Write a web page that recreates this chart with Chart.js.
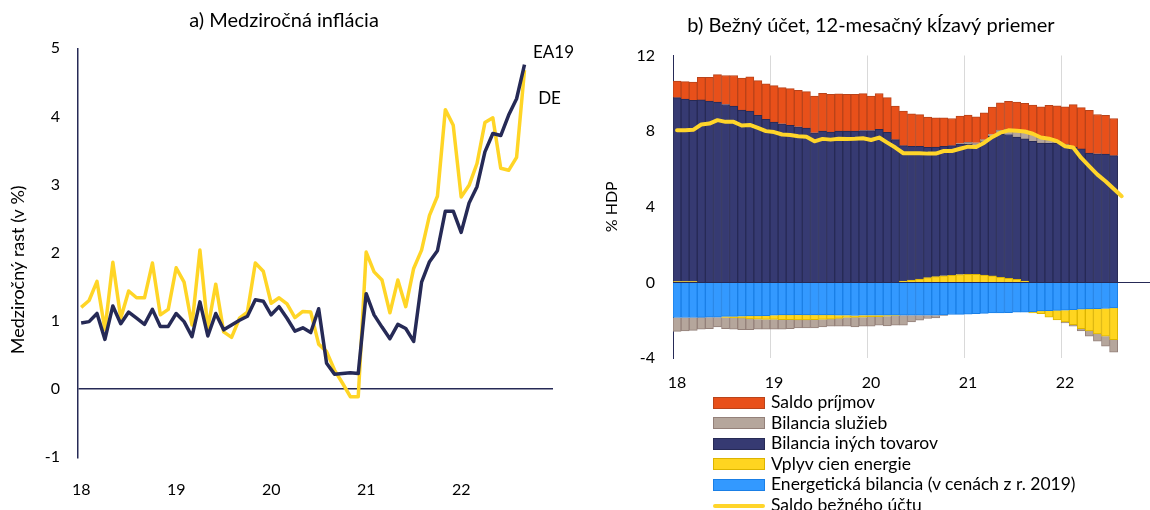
<!DOCTYPE html>
<html lang="sk">
<head>
<meta charset="utf-8">
<title>Inflácia a bežný účet</title>
<script src="https://cdn.jsdelivr.net/npm/chart.js@4.4.0/dist/chart.umd.min.js"></script>
<style>
  html, body { margin: 0; padding: 0; background: #fff; overflow: hidden; }
  body { width: 1150px; height: 510px; position: relative; font-family: Lato, "Open Sans", sans-serif; }
  #grafA { position: absolute; left: 0; top: 0; }
  #grafB { position: absolute; left: 580px; top: 0; }
  #legenda { position: absolute; left: 713px; top: 392px; font-size: 17.5px; color: #000; }
  #legenda div { height: 20.6px; line-height: 20.6px; white-space: nowrap; }
  #legenda .box { display: inline-block; width: 50px; height: 10px; border: 1px solid; vertical-align: middle; margin-right: 6px; position: relative; top: -1px; }
  #legenda .ciara { display: inline-block; width: 52px; height: 4px; vertical-align: middle; margin-right: 6px; position: relative; top: -1px; border-radius: 2px; }
</style>
</head>
<body>
<canvas id="grafA" width="580" height="510"></canvas>
<canvas id="grafB" width="570" height="400"></canvas>
<div id="legenda"></div>

<script>
// a) medziročná inflácia, mesačne od 01/2018
const ea19 = [0.97, 0.99, 1.11, 0.73, 1.22, 0.96, 1.13, 1.04, 0.95, 1.17,
              0.92, 0.92, 1.11, 0.99, 0.77, 1.28, 0.78, 1.11, 0.87, 0.94,
              1.01, 1.07, 1.31, 1.29, 1.09, 1.21, 1.04, 0.85, 0.90, 0.83,
              1.18, 0.38, 0.22, 0.23, 0.24, 0.23, 1.40, 1.09, 0.91, 0.74,
              0.95, 0.89, 0.70, 1.57, 1.87, 2.03, 2.61, 2.61, 2.30, 2.73,
              2.97, 3.48, 3.75, 3.72, 4.02, 4.26, 4.76];
const de = [1.20, 1.30, 1.58, 0.87, 1.86, 1.04, 1.44, 1.34, 1.34, 1.85,
            1.09, 1.17, 1.78, 1.57, 0.94, 2.04, 0.89, 1.54, 0.84, 0.76,
            1.04, 1.13, 1.85, 1.73, 1.26, 1.34, 1.25, 1.05, 1.14, 1.13,
            0.66, 0.55, 0.28, 0.09, -0.11, -0.11, 2.01, 1.72, 1.60, 1.12,
            1.60, 1.21, 1.77, 2.04, 2.55, 2.83, 4.10, 3.87, 2.82, 2.99,
            3.31, 3.91, 3.98, 3.24, 3.21, 3.40, 4.68];

const rokyPopisky = ['18', '19', '20', '21', '22'];

// b) bežný účet, % HDP
const prijmy = [0.88, 0.92, 0.97, 1.20, 1.26, 1.45, 1.53, 1.61, 1.69, 1.81,
                1.84, 1.88, 1.93, 1.91, 1.95, 1.93, 1.93, 1.95, 2.00, 2.00,
                1.97, 1.95, 1.95, 1.95, 1.83, 1.90, 1.83, 1.78, 1.83, 1.72,
                1.67, 1.60, 1.55, 1.50, 1.44, 1.45, 1.44, 1.38, 1.42, 1.45,
                1.45, 1.48, 1.49, 1.47, 1.56, 1.65, 1.81, 1.88, 2.00, 2.25,
                2.18, 2.26, 2.08, 2.04, 1.97];
const sluzby = [-0.73, -0.71, -0.68, -0.63, -0.61, -0.52, -0.59, -0.60, -0.61, -0.57,
                -0.53, -0.52, -0.52, -0.51, -0.48, -0.42, -0.43, -0.44, -0.40, -0.38,
                -0.42, -0.46, -0.51, -0.48, -0.50, -0.45, -0.51, -0.51, -0.53, -0.35,
                -0.26, -0.17, -0.14, -0.03, 0, 0.03, 0.10, 0.12, 0.10, 0.10,
                0.20, 0.27, 0.37, 0.41, 0.36, 0.27, 0.20, 0.10, -0.05, -0.07,
                -0.12, -0.28, -0.39, -0.53, -0.66];
const ineTovary = [9.73, 9.66, 9.59, 9.65, 9.59, 9.54, 9.41, 9.33, 9.11, 9.06,
                   8.83, 8.62, 8.48, 8.39, 8.30, 8.23, 8.16, 7.91, 8.00, 7.95,
                   8.00, 8.00, 8.00, 8.03, 8.03, 8.09, 7.94, 7.55, 7.16, 7.08,
                   7.02, 6.89, 6.85, 6.85, 6.86, 6.90, 6.88, 6.83, 7.06, 7.38,
                   7.58, 7.61, 7.52, 7.52, 7.46, 7.37, 7.35, 7.36, 7.29, 7.15,
                   7.06, 6.84, 6.80, 6.79, 6.70];
const vplyvCien = [0.04, 0.04, 0.04, 0, 0, 0, -0.06, -0.08, -0.10, -0.15,
                   -0.18, -0.20, -0.22, -0.25, -0.25, -0.28, -0.26, -0.25, -0.24, -0.22,
                   -0.16, -0.12, -0.10, -0.10, -0.08, -0.08, -0.05, -0.02, 0.07, 0.12,
                   0.18, 0.25, 0.30, 0.35, 0.37, 0.41, 0.43, 0.43, 0.39, 0.34,
                   0.27, 0.21, 0.16, 0.07, -0.05, -0.14, -0.35, -0.50, -0.62, -0.80,
                   -1.03, -1.17, -1.33, -1.47, -1.68];
const energetickaBil = [-1.86, -1.86, -1.86, -1.85, -1.84, -1.84, -1.80, -1.80, -1.79, -1.78,
                        -1.77, -1.76, -1.74, -1.72, -1.72, -1.71, -1.72, -1.72, -1.72, -1.72,
                        -1.74, -1.74, -1.75, -1.74, -1.74, -1.74, -1.74, -1.74, -1.74, -1.74,
                        -1.74, -1.74, -1.74, -1.72, -1.70, -1.69, -1.68, -1.66, -1.64, -1.62,
                        -1.61, -1.60, -1.58, -1.57, -1.56, -1.51, -1.49, -1.48, -1.47, -1.44,
                        -1.42, -1.40, -1.39, -1.38, -1.35];
const saldoBU = [8.05, 8.05, 8.07, 8.35, 8.40, 8.58, 8.49, 8.49, 8.30, 8.33,
                 8.17, 8.00, 7.95, 7.82, 7.80, 7.73, 7.70, 7.46, 7.59, 7.55,
                 7.60, 7.59, 7.60, 7.62, 7.53, 7.66, 7.39, 7.13, 6.83, 6.83,
                 6.83, 6.81, 6.81, 6.95, 6.95, 7.07, 7.18, 7.16, 7.39, 7.69,
                 7.92, 8.04, 8.02, 7.98, 7.86, 7.66, 7.60, 7.47, 7.20, 7.13,
                 6.58, 6.14, 5.70, 5.35, 4.95, 4.56];

// mesiace 01/2018 .. 11/2022 (os siaha kúsok za posledné údaje)
const mesiace = [];
for (let r = 2018; r <= 2022; r++) {
    for (let m = 1; m <= 12; m++) mesiace.push(m + '/' + r);
}
mesiace.length = 59;

const FONT = 'Lato, "Open Sans", sans-serif';
Chart.defaults.font.family = FONT;
Chart.defaults.font.size = 16;
Chart.defaults.color = '#000';

const tmavaModra = '#262a56';
const zlta = '#ffd526';

const farby = {
    prijmy: ['#e8501a', '#b9431a'],
    sluzby: ['#b5a69c', '#94817a'],
    tovary: ['#363a72', '#272a55'],
    ceny: ['#ffd520', '#dcb400'],
    energia: ['#3399ff', '#1a7fe6']
};

// popisky radov a názov osi y v grafe a)
const popiskyA = {
    id: 'popiskyA',
    afterDraw(chart) {
        const {ctx, chartArea, scales} = chart;
        const posl = ea19.length - 1;
        const xPosl = scales.x.getPixelForValue(posl);
        ctx.save();
        ctx.font = '17px ' + FONT;
        ctx.fillStyle = '#000';
        ctx.textAlign = 'center';
        ctx.textBaseline = 'middle';
        ctx.fillText('EA19', xPosl + 29, scales.y.getPixelForValue(ea19[posl]) - 12);
        ctx.fillText('DE', xPosl + 25, scales.y.getPixelForValue(de[posl]) + 28);
        ctx.font = '18px ' + FONT;
        ctx.translate(chartArea.left - 60, (chartArea.top + chartArea.bottom) / 2 + 17);
        ctx.rotate(-Math.PI / 2);
        ctx.fillText('Medziročný rast (v %)', 0, 0);
        ctx.restore();
    }
};

// bez okrajov, ktoré Chart.js pridáva pre krajné popisky osi x
const bezOkrajov = s => { s.paddingLeft = 0; s.paddingRight = 0; };

new Chart(document.getElementById('grafA'), {
    type: 'line',
    data: {
        datasets: [{
            label: 'EA19',
            data: ea19.map((v, i) => ({x: i, y: v})),
            borderColor: tmavaModra,
            borderWidth: 3.5,
            pointRadius: 0,
            borderJoinStyle: 'round'
        }, {
            label: 'DE',
            data: de.map((v, i) => ({x: i, y: v})),
            borderColor: zlta,
            borderWidth: 3.5,
            pointRadius: 0,
            borderJoinStyle: 'round'
        }]
    },
    options: {
        responsive: false,
        animation: false,
        devicePixelRatio: 1,
        layout: {padding: {left: 15, right: 27, top: 0, bottom: 0}},
        plugins: {
            legend: {display: false},
            tooltip: {enabled: false},
            title: {
                display: true,
                text: 'a) Medziročná inflácia',
                font: {size: 20, weight: 'normal'},
                color: '#000',
                padding: {top: 9, bottom: 15.3}
            }
        },
        scales: {
            x: {
                type: 'linear',
                min: -0.4,
                max: 59.6,
                grid: {display: false},
                border: {display: false},
                afterBuildTicks: s => { s.ticks = rokyPopisky.map((t, i) => ({value: i * 12})); },
                ticks: {
                    maxRotation: 0,
                    padding: 15,
                    callback: (v, i) => rokyPopisky[i]
                },
                afterFit: s => { s.height = 52.7; bezOkrajov(s); }
            },
            y: {
                min: -1,
                max: 5,
                ticks: {stepSize: 1, padding: 18},
                grid: {
                    drawTicks: false,
                    color: c => (c.tick && c.tick.value === 0) ? tmavaModra : 'transparent',
                    lineWidth: 1.5
                },
                border: {display: true, color: tmavaModra, width: 1.5},
                afterFit: s => { s.width = 63; }
            }
        }
    },
    plugins: [popiskyA]
});

function stlpce(label, data, f) {
    return {
        label: label,
        data: data,
        backgroundColor: f[0],
        borderColor: f[1],
        borderWidth: 1,
        stack: 'zlozky'
    };
}

new Chart(document.getElementById('grafB'), {
    type: 'bar',
    data: {
        labels: mesiace,
        datasets: [
            {
                type: 'line',
                label: 'Saldo bežného účtu',
                data: saldoBU,
                borderColor: '#ffd52a',
                borderWidth: 4,
                pointRadius: 0,
                borderJoinStyle: 'round',
                borderCapStyle: 'round',
                stack: 'ciara'
            },
            stlpce('Energetická bilancia (v cenách z r. 2019)', energetickaBil, farby.energia),
            stlpce('Vplyv cien energie', vplyvCien, farby.ceny),
            stlpce('Bilancia iných tovarov', ineTovary, farby.tovary),
            stlpce('Bilancia služieb', sluzby, farby.sluzby),
            stlpce('Saldo príjmov', prijmy, farby.prijmy)
        ]
    },
    options: {
        responsive: false,
        animation: false,
        devicePixelRatio: 1,
        datasets: {bar: {barPercentage: 1, categoryPercentage: 1}},
        layout: {padding: {left: 12, right: 0, top: 0, bottom: 0}},
        plugins: {
            legend: {display: false},
            tooltip: {enabled: false},
            title: {
                display: true,
                text: 'b) Bežný účet, 12-mesačný kĺzavý priemer',
                font: {size: 20, weight: 'normal'},
                color: '#000',
                padding: {top: 14, bottom: 17.5}
            }
        },
        scales: {
            x: {
                stacked: true,
                grid: {
                    offset: true,
                    drawTicks: false,
                    color: c => (c.index > 0 && c.index % 12 === 0) ? '#d9d9d9' : 'transparent'
                },
                border: {display: false},
                ticks: {
                    autoSkip: false,
                    maxRotation: 0,
                    padding: 15,
                    callback: (v, i) => i % 12 === 0 ? rokyPopisky[i / 12] : ''
                },
                afterFit: s => { s.height = 42; bezOkrajov(s); }
            },
            y: {
                stacked: true,
                min: -4,
                max: 12,
                ticks: {stepSize: 4, padding: 18},
                grid: {
                    drawTicks: false,
                    color: c => (c.tick && c.tick.value === 0) ? tmavaModra : 'transparent'
                },
                border: {display: true, color: tmavaModra},
                title: {display: true, text: '% HDP', font: {size: 16}, padding: {top: 10}},
                afterFit: s => { s.width = 81; }
            }
        }
    }
});

// legenda pod grafom b)
const legenda = [
    ['Saldo príjmov', farby.prijmy],
    ['Bilancia služieb', farby.sluzby],
    ['Bilancia iných tovarov', farby.tovary],
    ['Vplyv cien energie', farby.ceny],
    ['Energetická bilancia (v cenách z r. 2019)', farby.energia]
];
const leg = document.getElementById('legenda');
legenda.forEach(([text, f]) => {
    const riadok = document.createElement('div');
    riadok.innerHTML = `<span class="box" style="background:${f[0]};border-color:${f[1]}"></span>${text}`;
    leg.appendChild(riadok);
});
const posledny = document.createElement('div');
posledny.innerHTML = '<span class="ciara" style="background:#ffd52a"></span>Saldo bežného účtu';
leg.appendChild(posledny);
</script>
</body>
</html>
